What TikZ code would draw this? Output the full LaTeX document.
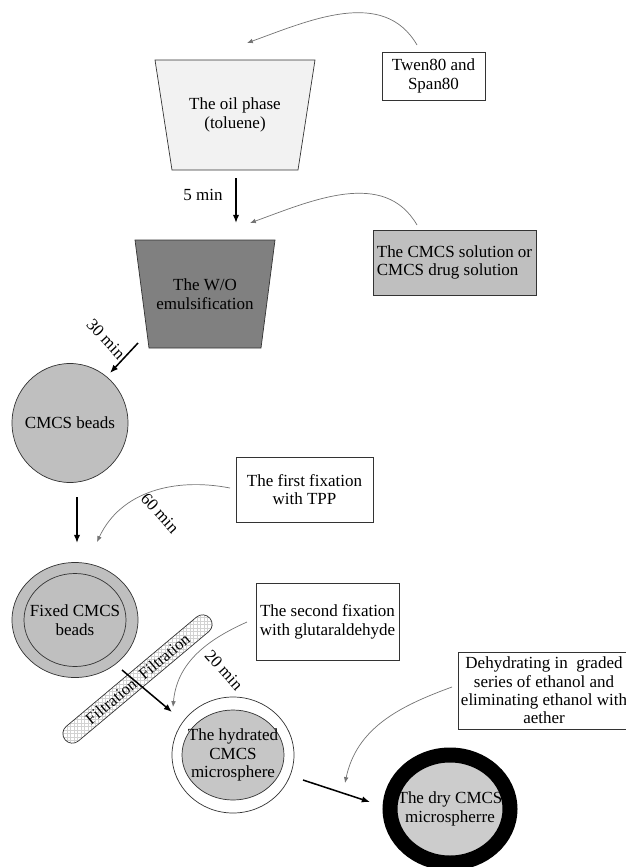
\documentclass[tikz,border=0pt]{standalone}
\usepackage{fontspec}
\setmainfont{Liberation Serif}
\usetikzlibrary{arrows,arrows.meta}
\usetikzlibrary{shapes, shapes.geometric}
\usetikzlibrary{patterns}
\tikzset{>=latex}
\tikzstyle{flow} = [line width = 1.3pt, -{Latex[length=7pt, width=5.5pt]}]
\tikzstyle{feed} = [%
					line width = 0.6pt,
					color = black!55,
					-{Latex[length=5pt, width=4pt]}
					]
\tikzstyle{box} = [draw = black!80, rectangle, line width = 0.6pt, align = center, inner sep = 1pt]
\tikzstyle{bead} = [draw = black!80, ellipse, line width = 0.6pt, inner sep = 0pt]
\tikzstyle{tub} = [draw = black!80, line width = 0.6pt]

\begin{document}
\begin{tikzpicture}[x=0.03cm, y=0.03cm, font=\fontsize{14.5}{16}\selectfont]

	\useasboundingbox (0,0) rectangle (626,-867);

	% Vessels
	\draw[tub, fill=gray!10] (155,-60) -- (315,-60) -- (298,-170) -- (172,-170) -- cycle;
	\draw[tub, fill=black!50] (135,-240) -- (275,-240) -- (261,-348) -- (149,-348) -- cycle;
	\node[align=center] (oil) at (235,-115) {The oil phase\\(toluene)};
	\node[align=center] (wo) at (205,-294) {The W/O\\emulsification};

	% Boxes
	\node[box, minimum width=3.09cm, minimum height=1.44cm] (twen) at (433.5,-76) {Twen80 and\\Span80};
	\node[box, fill=gray!50, minimum width=4.89cm, minimum height=1.95cm, align=left] (sol) at (454.5,-262.5) {The CMCS solution or\\CMCS drug solution};
	\node[box, minimum width=4.11cm, minimum height=1.95cm] (fixa) at (304.5,-489.5) {The first fixation\\with TPP};
	\node[box, minimum width=4.29cm, minimum height=2.31cm] (fixb) at (327.5,-621.5) {The second fixation\\with glutaraldehyde};
	\node[box, minimum width=5.16cm, minimum height=2.31cm, font=\fontsize{14.5}{15.6}\selectfont] (dehyd) at (544,-690.5) {Dehydrating in\ \ graded\\series of ethanol and\\eliminating ethanol with\\aether};

	% Beads
	\node[bead, fill=gray!50, minimum width=3.48cm, minimum height=3.57cm, label=center:CMCS beads] (beads) at (70,-423) {};
	\node[bead, fill=gray!50, minimum width=3.78cm, minimum height=3.45cm] (fixedrim) at (75,-620) {};
	\node[bead, fill=gray!50, minimum width=3.06cm, minimum height=2.79cm, label={[align=center]center:Fixed CMCS\\beads}] (fixed) at (75,-620) {};
	\node[bead, fill=white, minimum width=3.66cm, minimum height=3.48cm] (hydrim) at (233,-755) {};
	\node[bead, fill=gray!45, minimum width=3.06cm, minimum height=2.7cm, label={[align=center]center:The hydrated\\CMCS\\microsphere}] (hyd) at (233,-755) {};
	\node[bead, draw=black, fill=gray!40, line width=0.45cm, minimum width=3.6cm, minimum height=3.24cm, label={[align=center]center:The dry CMCS\\microspherre}] (dry) at (450,-809) {};

	% Filtration
	\node[draw=black!80, line width=0.6pt, rounded corners=0.28cm, rotate=40, minimum width=5.67cm, minimum height=0.57cm, inner sep=0pt, pattern=grid, pattern color=gray!35, font=\fontsize{14}{16}\selectfont] (filt) at (137.5,-679) {Filtration\hspace{0.25cm}Filtration};

	% Times
	\node (m5) at (203,-195) {5 min};
	\node[rotate=-47] (m30) at (106,-339) {30 min};
	\node[rotate=-48] (m60) at (160,-513) {60 min};
	\node[rotate=-48] (m20) at (224,-670) {20 min};

	% Steps
	\draw[flow] ([shift={(1,-63)}]oil.center) -- ([shift={(31,71)}]wo.center);
	\draw[flow] ([shift={(-67,-49)}]wo.center) -- ([shift={(40,50)}]beads.center);
	\draw[flow] ([shift={(7,-74)}]beads.center) -- ([shift={(2,77)}]fixed.center);
	\draw[flow] ([shift={(47,-50)}]fixed.center) -- ([shift={(-61,43)}]hyd.center);
	\draw[flow] ([shift={(70,-25)}]hyd.center) -- ([shift={(-80,7)}]dry.center);

	% Additions
	\draw[feed] ([shift={(-16.5,31)}]twen.center) to[out=120, in=20] ([shift={(12,72)}]oil.center);
	\draw[feed] ([shift={(-37.5,37.5)}]sol.center) to[out=120, in=20] ([shift={(45,71)}]wo.center);
	\draw[feed] ([shift={(-74.5,1.5)}]fixa.center) to[out=169, in=65] ([shift={(22,78)}]fixed.center);
	\draw[feed] ([shift={(-80.5,-0.5)}]fixb.center) to[out=204, in=85] ([shift={(-60,48)}]hyd.center);
	\draw[feed] ([shift={(-92,3.5)}]dehyd.center) to[out=200, in=78] ([shift={(-105,26)}]dry.center);

\end{tikzpicture}
\end{document}
